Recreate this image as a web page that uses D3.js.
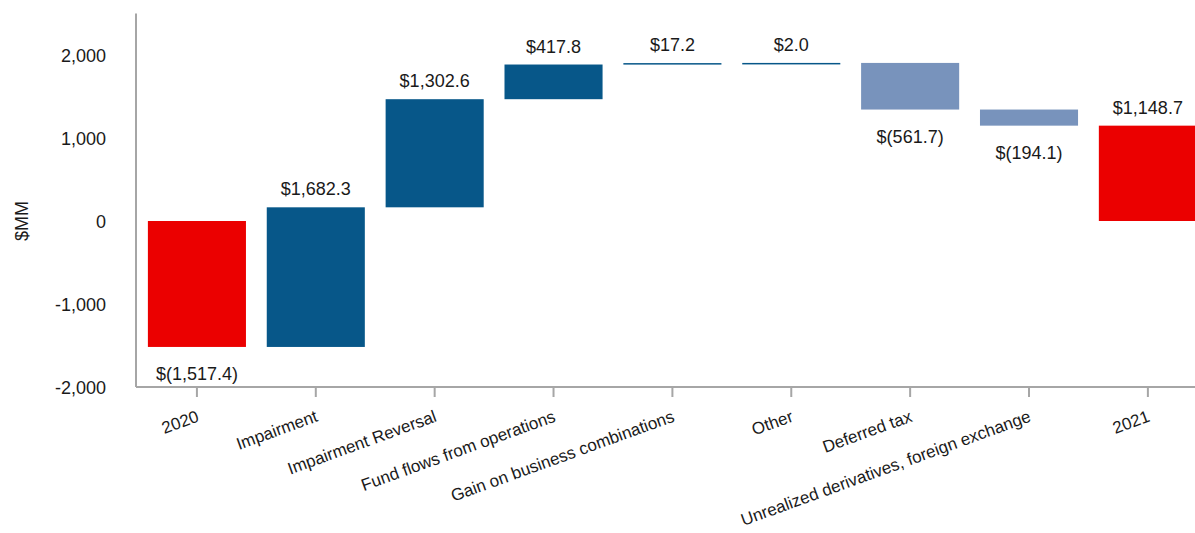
<!DOCTYPE html>
<html>
<head>
<meta charset="utf-8">
<script src="https://cdn.jsdelivr.net/npm/d3@7"></script>
<style>
  body { margin: 0; background: #fff; }
  text { font-family: "Liberation Sans", Arial, sans-serif; fill: #1a1a1a; }
</style>
</head>
<body>
<div id="chart"></div>
<script>
// waterfall data ($MM)
var categorias = ["2020", "Impairment", "Impairment Reversal", "Fund flows from operations",
    "Gain on business combinations", "Other", "Deferred tax",
    "Unrealized derivatives, foreign exchange", "2021"];
var cambios = [-1517.4, 1682.3, 1302.6, 417.8, 17.2, 2.0, -561.7, -194.1, 1148.7];
var esTotal = [true, false, false, false, false, false, false, false, true];
var etiquetas = ["$(1,517.4)", "$1,682.3", "$1,302.6", "$417.8", "$17.2", "$2.0", "$(561.7)", "$(194.1)", "$1,148.7"];
var yTicks = [-2000, -1000, 0, 1000, 2000];

var W = 1195, H = 533;
var svg = d3.select("#chart").append("svg").attr("width", W).attr("height", H);

// armar inicio/fin de cada barra
var acumulado = 0;
var datos = categorias.map(function (c, i) {
    var ini, fin;
    if (esTotal[i]) { ini = 0; fin = cambios[i]; acumulado = cambios[i]; }
    else { ini = acumulado; fin = acumulado + cambios[i]; acumulado = fin; }
    return { cat: c, ini: ini, fin: fin, valor: cambios[i], total: esTotal[i], label: etiquetas[i] };
});

var x = d3.scaleBand().domain(categorias).range([136, 1208.8]).paddingInner(0.175).paddingOuter(0.1);
var y = d3.scaleLinear().domain([-2000, 2500]).range([387, 13.5]);

function color(d) {
    if (d.total) return "#eb0000";
    return d.valor >= 0 ? "#075789" : "#7893bc";
}

// barras
svg.selectAll(".bar").data(datos).enter().append("rect")
    .attr("class", "bar")
    .attr("x", function (d) { return x(d.cat); })
    .attr("width", x.bandwidth())
    .attr("y", function (d) { return y(Math.max(d.ini, d.fin)); })
    .attr("height", function (d) { return Math.max(1.5, Math.abs(y(d.ini) - y(d.fin))); })
    .attr("fill", color);

// etiquetas de valor
svg.selectAll(".lbl").data(datos).enter().append("text")
    .attr("class", "lbl")
    .attr("x", function (d) { return x(d.cat) + x.bandwidth() / 2; })
    .attr("y", function (d) {
        return d.valor >= 0 ? y(Math.max(d.ini, d.fin)) - 12 : y(Math.min(d.ini, d.fin)) + 33;
    })
    .attr("text-anchor", "middle")
    .style("font-size", "18px")
    .text(function (d) { return d.label; });

// eje y
var fmt = d3.format(",");
var yAxis = svg.append("g").attr("transform", "translate(136,0)")
    .call(d3.axisLeft(y).tickValues(yTicks).tickSize(0).tickPadding(30)
        .tickFormat(function (d) { return fmt(d).replace("\u2212", "-"); }));
yAxis.select(".domain").attr("d", "M0," + y(2500) + "V" + y(-2000))
    .attr("stroke", "#a6a6a6").attr("stroke-width", 2);
yAxis.selectAll("text").style("font-size", "18px").attr("font-family", null).attr("dy", "0.35em");

svg.append("text")
    .attr("transform", "translate(28," + y(0) + ") rotate(-90)")
    .attr("text-anchor", "middle")
    .style("font-size", "18px")
    .text("$MM");

// eje x
var xAxis = svg.append("g").attr("transform", "translate(0," + y(-2000) + ")")
    .call(d3.axisBottom(x).tickSize(10).tickSizeOuter(0));
xAxis.select(".domain").attr("d", "M136,0H" + W).attr("stroke", "#a6a6a6").attr("stroke-width", 2);
xAxis.selectAll(".tick line").attr("stroke", "#a6a6a6").attr("stroke-width", 2);
xAxis.selectAll("text")
    .attr("font-family", null)
    .style("font-size", "17px")
    .attr("text-anchor", "end")
    .attr("y", 0).attr("dy", 0)
    .attr("transform", "translate(3,34) rotate(-20)");
</script>
</body>
</html>
